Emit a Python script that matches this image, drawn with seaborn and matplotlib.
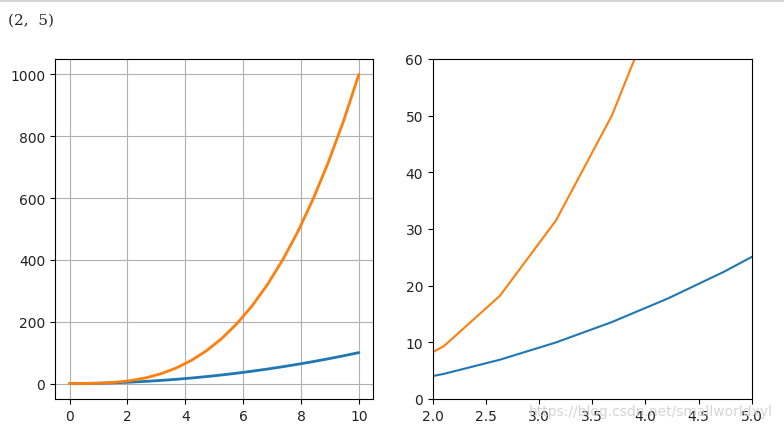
import matplotlib
matplotlib.use("Agg")
import matplotlib.pyplot as plt
import seaborn as sns
from matplotlib.lines import Line2D

# data (20 samples between 0 and 10)
x = [0.0, 0.526, 1.053, 1.579, 2.105, 2.632, 3.158, 3.684, 4.211, 4.737,
     5.263, 5.789, 6.316, 6.842, 7.368, 7.895, 8.421, 8.947, 9.474, 10.0]
y_square = [0.0, 0.28, 1.11, 2.49, 4.43, 6.93, 9.97, 13.57, 17.73, 22.44,
            27.70, 33.52, 39.89, 46.81, 54.29, 62.33, 70.91, 80.06, 89.75, 100.0]
y_cube = [0.0, 0.15, 1.17, 3.94, 9.33, 18.22, 31.49, 50.01, 74.65, 106.28,
          145.79, 194.05, 251.93, 320.31, 400.06, 492.05, 597.17, 716.28, 850.26, 1000.0]

right_xlim = (2, 5)
right_ylim = (0, 60)

sns.set_style("ticks")
plt.rcParams["font.family"] = ["DejaVu Sans"]
plt.rcParams["axes.edgecolor"] = "black"

fig = plt.figure(figsize=(7.84, 4.31), dpi=100)
ax1 = fig.add_axes([0.0702, 0.072, 0.406, 0.789])
ax2 = fig.add_axes([0.552, 0.072, 0.407, 0.789])

# -------------------------------
# left: full range with grid
# -------------------------------
sns.lineplot(x=x, y=y_square, ax=ax1, color="#1f77b4", linewidth=2)
sns.lineplot(x=x, y=y_cube, ax=ax1, color="#ff7f0e", linewidth=2)
ax1.grid(True, color="#b0b0b0", linewidth=0.8)
ax1.set_xticks([0, 2, 4, 6, 8, 10])
ax1.set_yticks([0, 200, 400, 600, 800, 1000])

# -------------------------------
# right: zoomed window
# -------------------------------
sns.lineplot(x=x, y=y_square, ax=ax2, color="#1f77b4", linewidth=1.5)
sns.lineplot(x=x, y=y_cube, ax=ax2, color="#ff7f0e", linewidth=1.5)
ax2.set_xlim(right_xlim)
ax2.set_ylim(right_ylim)

for ax in (ax1, ax2):
    ax.tick_params(labelsize=10, length=3.5, width=0.8, colors="black", labelcolor="#222222")
    for s in ax.spines.values():
        s.set_visible(True)
        s.set_color("black")
        s.set_linewidth(0.8)

# notebook output text and cell border
fig.text(0.010, 0.952, "(2,  5)", fontsize=11, family=["DejaVu Serif"], va="center")
fig.add_artist(Line2D([0, 1], [0.996, 0.996], color="#cccccc", linewidth=1.2))

# watermark
fig.text(0.675, 0.043, "https://blog.csdn.net/smallworldxyl", fontsize=10,
         color="#d0d0d0", va="center", alpha=0.9)

fig.savefig("out.png", dpi=100)
